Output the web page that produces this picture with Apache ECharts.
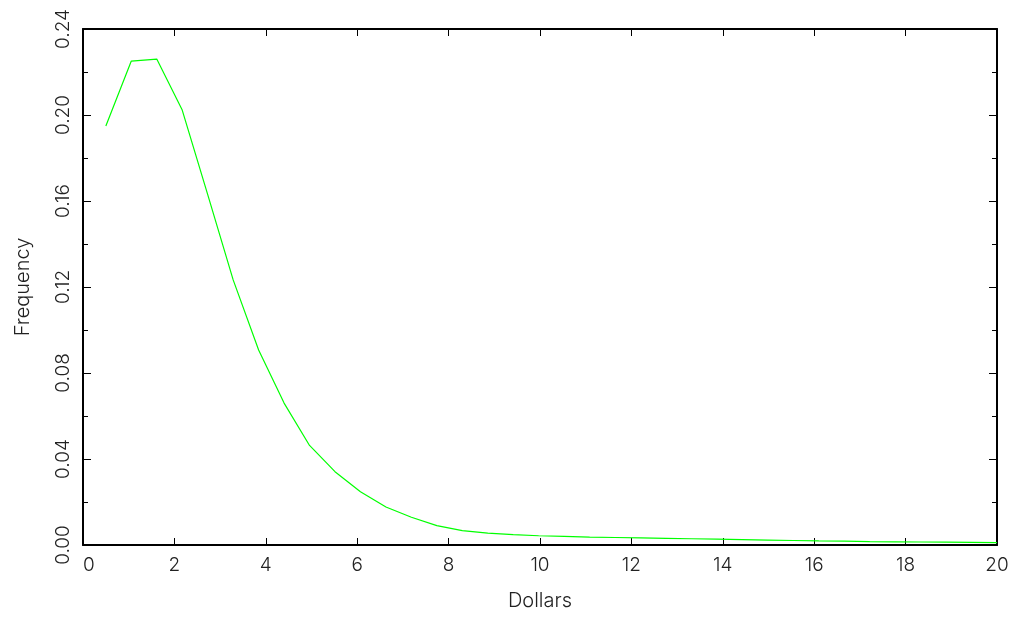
<!DOCTYPE html>
<html>
<head>
<meta charset="utf-8">
<script src="https://cdn.jsdelivr.net/npm/echarts@6/dist/echarts.min.js"></script>
<style>html,body{margin:0;padding:0;background:#fff;}#c{width:1016px;height:621px;}</style>
</head>
<body>
<div id="c"></div>
<script>
var dollars = [0.5, 1.057, 1.614, 2.171, 2.729, 3.286, 3.843, 4.4, 4.957, 5.514, 6.071, 6.629, 7.186, 7.743, 8.3, 8.857, 9.414, 9.971, 10.529, 11.086, 11.643, 12.2, 12.757, 13.314, 13.871, 14.429, 14.986, 15.543, 16.1, 16.657, 17.214, 17.771, 18.329, 18.886, 19.443, 20.0];
var frequency = [0.1949, 0.2251, 0.2260, 0.2023, 0.1630, 0.1233, 0.0907, 0.0660, 0.0463, 0.0341, 0.0248, 0.0177, 0.0129, 0.0090, 0.0067, 0.0055, 0.0048, 0.0043, 0.0040, 0.0037, 0.0035, 0.0033, 0.0031, 0.0029, 0.0027, 0.0025, 0.0023, 0.0021, 0.0019, 0.0018, 0.0016, 0.0015, 0.0014, 0.0013, 0.0012, 0.0011];
var xTicks = [0, 20, 2];
var yTicks = [0, 0.24, 0.04];

var font = 'Inter';
var fw = 300;
var txt = '#222';
var chart = echarts.init(document.getElementById('c'), null, {renderer: 'canvas'});
var axLine = {show: true, onZero: false, lineStyle: {color: '#000', width: 2}};
chart.setOption({
  animation: false,
  backgroundColor: '#fff',
  grid: {left: 83, right: 19, top: 29, bottom: 76, containLabel: false},
  xAxis: [{
    type: 'value', min: xTicks[0], max: xTicks[1], interval: xTicks[2], position: 'bottom',
    name: 'Dollars', nameLocation: 'middle', nameGap: 46,
    nameTextStyle: {color: txt, fontFamily: font, fontWeight: fw, fontSize: 20},
    axisLine: axLine,
    axisTick: {show: true, inside: true, length: 7, lineStyle: {color: '#000', width: 1}},
    axisLabel: {color: txt, fontFamily: font, fontWeight: fw, fontSize: 19, margin: 11,
      alignMinLabel: 'left',
      formatter: function (v) { return String(v); }},
    splitLine: {show: false}
  }, {
    type: 'value', min: xTicks[0], max: xTicks[1], interval: xTicks[2], position: 'top',
    axisLine: axLine,
    axisTick: {show: true, inside: true, length: 7, lineStyle: {color: '#000', width: 1}},
    axisLabel: {show: false}, splitLine: {show: false}
  }],
  yAxis: [{
    type: 'value', min: yTicks[0], max: yTicks[1], interval: yTicks[2], position: 'left',
    name: 'Frequency', nameLocation: 'middle', nameGap: 50,
    nameTextStyle: {color: txt, fontFamily: font, fontWeight: fw, fontSize: 20},
    axisLine: axLine,
    axisTick: {show: true, inside: true, length: 8, lineStyle: {color: '#000', width: 1}},
    minorTick: {show: true, splitNumber: 2, length: 5, lineStyle: {color: '#000', width: 1}},
    axisLabel: {color: txt, fontFamily: font, fontWeight: fw, fontSize: 19, margin: 10, rotate: 90,
      formatter: function (v) { return v.toFixed(2); }},
    splitLine: {show: false}, minorSplitLine: {show: false}
  }, {
    type: 'value', min: yTicks[0], max: yTicks[1], interval: yTicks[2], position: 'right',
    axisLine: axLine,
    axisTick: {show: true, inside: true, length: 8, lineStyle: {color: '#000', width: 1}},
    minorTick: {show: true, splitNumber: 2, length: 5, lineStyle: {color: '#000', width: 1}},
    axisLabel: {show: false}, splitLine: {show: false}, minorSplitLine: {show: false}
  }],
  series: [{
    type: 'line',
    data: dollars.map(function (x, i) { return [x, frequency[i]]; }),
    showSymbol: false, symbol: 'none',
    lineStyle: {color: '#00ff00', width: 1.2},
    z: 1
  }]
});
</script>
</body>
</html>
